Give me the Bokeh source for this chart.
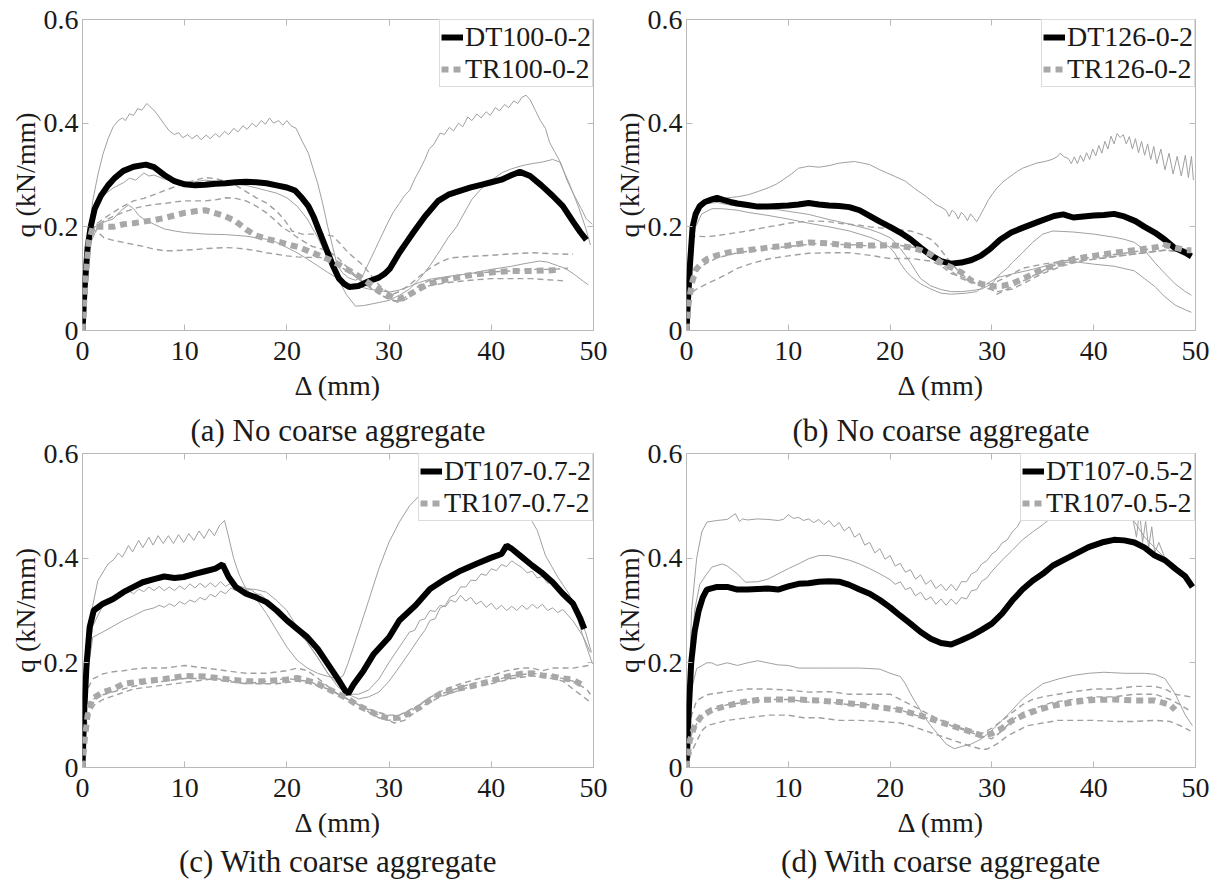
from bokeh.plotting import figure
from bokeh.models import (Range1d, FixedTicker, LinearAxis, Title, Legend,
                          LegendItem)
from bokeh.layouts import column, row
from bokeh.embed import file_html
from bokeh.resources import INLINE

FONT = "Liberation Serif"

X_TICKS = [0, 10, 20, 30, 40, 50]
Y_TICKS = [0, 0.2, 0.4, 0.6]
Y_TICK_LABELS = {0: "0", 0.2: "0.2", 0.4: "0.4", 0.6: "0.6"}

# ---------------------------------------------------------------- (a)
A_DT = [(0, 0), (0.2, 0.08), (0.5, 0.16), (0.8, 0.2), (1.2, 0.235), (1.8, 0.26), (2.5, 0.28),
        (3.2, 0.295), (4, 0.308), (5, 0.316), (6.2, 0.32), (7, 0.315), (8, 0.30), (9, 0.288),
        (10, 0.282), (11, 0.28), (12, 0.281), (13, 0.283), (14, 0.284), (15, 0.286), (16, 0.287),
        (17, 0.286), (18, 0.284), (19, 0.28), (20, 0.276), (20.8, 0.27), (21.5, 0.255), (22.1, 0.24),
        (22.6, 0.22), (23, 0.2), (23.5, 0.175), (24, 0.15), (24.5, 0.125), (25.1, 0.1), (25.6, 0.09),
        (26.1, 0.084), (27, 0.086), (28, 0.095), (29, 0.102), (29.6, 0.11), (30.1, 0.12), (31, 0.15),
        (31.7, 0.17), (32.4, 0.19), (33.5, 0.22), (34.8, 0.25), (35.8, 0.262), (37, 0.27), (38, 0.276),
        (39, 0.281), (40, 0.286), (41, 0.291), (42, 0.3), (42.8, 0.306), (43.8, 0.298), (44.9, 0.28),
        (46, 0.26), (47, 0.24), (48, 0.21), (48.7, 0.19), (49.3, 0.175)]
A_TR = [(0, 0), (0.3, 0.1), (0.6, 0.17), (1, 0.2), (2, 0.2), (3, 0.2), (4, 0.205), (5, 0.207),
        (6, 0.21), (7, 0.213), (8, 0.217), (9, 0.222), (10, 0.227), (11, 0.23), (12, 0.232),
        (12.9, 0.227), (14, 0.22), (14.9, 0.212), (16, 0.195), (17, 0.183), (18, 0.177), (19.4, 0.17),
        (20.5, 0.164), (21.3, 0.16), (22.5, 0.15), (24, 0.138), (25.1, 0.127), (25.9, 0.118),
        (26.7, 0.109), (27.4, 0.1), (28, 0.092), (29.3, 0.075), (30.4, 0.064), (31, 0.061),
        (31.7, 0.066), (32.4, 0.074), (33.2, 0.083), (33.9, 0.09), (35, 0.096), (35.8, 0.099),
        (37.7, 0.106), (40, 0.112), (41.9, 0.115), (44, 0.115), (46, 0.116), (46.6, 0.118)]
A_DT_SPEC = [
    [(0, 0), (0.3, 0.1), (0.6, 0.18), (1, 0.25), (1.5, 0.3), (2, 0.34), (2.5, 0.37), (3, 0.393),
     (3.5, 0.405), (3.9, 0.41), (4.2, 0.405), (4.6, 0.418), (5, 0.415), (5.4, 0.428), (5.8, 0.425),
     (6.3, 0.438), (6.6, 0.432), (7, 0.425), (7.5, 0.412), (8, 0.398), (8.5, 0.385), (9, 0.378),
     (9.4, 0.382), (9.8, 0.372), (10.3, 0.378), (10.7, 0.37), (11.2, 0.377), (11.6, 0.368),
     (12.1, 0.377), (12.5, 0.37), (13, 0.38), (13.4, 0.373), (13.9, 0.384), (14.3, 0.378),
     (14.8, 0.39), (15.2, 0.383), (15.7, 0.395), (16.1, 0.388), (16.6, 0.4), (17, 0.393),
     (17.5, 0.405), (17.9, 0.398), (18.3, 0.41), (18.7, 0.4), (19.2, 0.405), (19.6, 0.396),
     (20, 0.405), (20.4, 0.395), (20.9, 0.39), (21.5, 0.365), (22.1, 0.342), (22.6, 0.31),
     (23, 0.285), (23.5, 0.245), (24, 0.2), (24.5, 0.16), (24.9, 0.128), (25.4, 0.112), (26, 0.102),
     (26.7, 0.097), (27.4, 0.105), (28, 0.13), (28.6, 0.155), (29.2, 0.18), (29.8, 0.205),
     (30.4, 0.228), (31, 0.245), (31.5, 0.26), (32, 0.27), (32.5, 0.292), (33, 0.31), (33.5, 0.33),
     (33.9, 0.349), (34.4, 0.36), (35, 0.381), (35.4, 0.378), (35.9, 0.392), (36.3, 0.385),
     (36.8, 0.4), (37.2, 0.393), (37.7, 0.412), (38.1, 0.405), (38.6, 0.418), (39, 0.41),
     (39.5, 0.422), (39.9, 0.415), (40.4, 0.43), (40.8, 0.424), (41.3, 0.436), (41.7, 0.43),
     (42.2, 0.443), (42.6, 0.438), (43, 0.45), (43.4, 0.454), (43.8, 0.445), (44.3, 0.425),
     (44.8, 0.405), (45.3, 0.39), (45.7, 0.363), (46.2, 0.345), (46.8, 0.323), (47.4, 0.29),
     (48, 0.265), (48.8, 0.235), (49.3, 0.215), (49.9, 0.205)],
    [(0, 0), (0.3, 0.1), (0.7, 0.18), (1.2, 0.23), (2, 0.26), (3, 0.275), (4, 0.285), (4.6, 0.294),
     (5.2, 0.29), (6, 0.304), (6.5, 0.298), (7, 0.3), (8, 0.292), (9, 0.288), (10, 0.285),
     (11, 0.287), (12, 0.29), (13, 0.288), (14, 0.285), (15, 0.282), (16, 0.28), (17, 0.275),
     (18, 0.27), (19, 0.265), (20, 0.256), (21, 0.24), (22, 0.215), (23, 0.18), (24, 0.14),
     (25, 0.1), (25.8, 0.07), (26.7, 0.047), (27.5, 0.048), (28.5, 0.052), (30, 0.058), (31, 0.068),
     (32, 0.08), (33, 0.1), (34, 0.125), (35, 0.155), (35.8, 0.18), (36.6, 0.2), (37.3, 0.225),
     (38.1, 0.253), (39, 0.273), (40, 0.29), (41.1, 0.305), (42, 0.312), (43, 0.318), (44, 0.322),
     (45, 0.325), (46, 0.33), (46.7, 0.325), (47.6, 0.285), (48.5, 0.24), (49.2, 0.2),
     (49.7, 0.165)],
    [(0, 0), (0.3, 0.1), (0.8, 0.17), (1.5, 0.2), (2.2, 0.21), (3, 0.215), (3.8, 0.232),
     (4.5, 0.242), (5, 0.235), (5.5, 0.222), (6, 0.215), (7, 0.205), (8, 0.196), (9, 0.192),
     (10, 0.189), (12, 0.186), (14, 0.185), (16, 0.182), (18, 0.176), (19, 0.17), (20, 0.16),
     (21, 0.15), (22, 0.138), (23, 0.125), (24, 0.112), (25, 0.1), (26, 0.09), (27, 0.085),
     (28, 0.08), (29, 0.077), (30, 0.074), (31, 0.078), (32, 0.085), (33, 0.093), (34, 0.099),
     (35, 0.102), (36, 0.105), (38, 0.11), (40, 0.118), (42, 0.124), (43, 0.128), (44.7, 0.134),
     (45.5, 0.132), (46.5, 0.125), (47.2, 0.12), (48, 0.11), (49, 0.095), (49.5, 0.088)],
]
A_TR_SPEC = [
    [(0, 0), (0.3, 0.1), (0.7, 0.18), (1, 0.2), (2, 0.215), (3, 0.228), (4, 0.24), (5, 0.25),
     (6, 0.255), (7, 0.262), (8, 0.27), (9, 0.277), (10, 0.284), (11, 0.29), (12, 0.295),
     (13, 0.293), (14, 0.288), (15, 0.28), (16, 0.268), (17, 0.256), (18, 0.246), (19, 0.23),
     (19.7, 0.215), (20.5, 0.192), (21.5, 0.186), (22.5, 0.186), (23.5, 0.186), (24.5, 0.182),
     (25.2, 0.168), (26, 0.15), (26.8, 0.137), (27.5, 0.125), (28.3, 0.105), (29, 0.088),
     (29.6, 0.078), (30.3, 0.07), (31, 0.075), (32, 0.088), (33, 0.105), (34, 0.12), (35, 0.132),
     (36, 0.14), (38, 0.143), (40, 0.145), (42, 0.148), (44, 0.15), (46, 0.148), (48, 0.147)],
    [(0, 0), (0.3, 0.1), (0.8, 0.18), (1.2, 0.2), (2, 0.21), (3, 0.22), (4, 0.228), (5, 0.235),
     (6, 0.24), (7, 0.243), (8, 0.245), (9, 0.248), (10, 0.25), (11, 0.25), (12, 0.25),
     (13, 0.252), (14, 0.256), (15, 0.255), (16, 0.25), (17, 0.24), (18, 0.227), (19, 0.21),
     (19.5, 0.2), (20.3, 0.19), (21, 0.18), (21.8, 0.17), (22.5, 0.162), (23.3, 0.158), (24, 0.154),
     (25, 0.14), (26, 0.12), (27, 0.1), (27.8, 0.088), (28.5, 0.078), (29.3, 0.068), (30, 0.06),
     (31, 0.056), (32, 0.07), (33, 0.088), (34, 0.097), (35, 0.1), (36.5, 0.105), (38, 0.11),
     (40, 0.113), (42, 0.115), (44, 0.118), (46, 0.118), (47.5, 0.12)],
    [(0, 0), (0.3, 0.1), (0.7, 0.17), (1, 0.195), (1.5, 0.19), (2.1, 0.179), (3, 0.174), (4, 0.17),
     (5, 0.166), (6, 0.162), (7, 0.157), (8, 0.154), (9, 0.154), (10, 0.155), (11, 0.156),
     (12, 0.158), (13, 0.159), (14, 0.16), (15, 0.159), (16, 0.157), (17, 0.154), (18, 0.15),
     (19, 0.147), (20, 0.144), (21, 0.142), (22, 0.141), (23, 0.141), (24, 0.14), (24.8, 0.13),
     (25.5, 0.12), (26.3, 0.11), (27, 0.1), (28, 0.085), (28.8, 0.073), (29.5, 0.065),
     (30.3, 0.058), (31, 0.054), (31.8, 0.062), (32.5, 0.072), (33.2, 0.082), (34, 0.087),
     (35, 0.09), (36, 0.093), (37, 0.095), (38.5, 0.098), (40, 0.1), (42, 0.1), (44, 0.1),
     (45.5, 0.098), (47, 0.096)],
]

# ---------------------------------------------------------------- (b)
B_DT = [(0, 0), (0.15, 0.06), (0.35, 0.13), (0.6, 0.2), (0.9, 0.225), (1.3, 0.24), (1.8, 0.248),
        (2.5, 0.253), (3, 0.256), (3.6, 0.252), (4.3, 0.248), (5, 0.245), (6, 0.242), (7, 0.239),
        (8, 0.239), (9, 0.24), (10, 0.241), (11, 0.243), (12, 0.246), (13, 0.243), (14, 0.241),
        (15, 0.24), (16, 0.238), (17, 0.232), (17.9, 0.222), (19, 0.21), (20, 0.2), (21, 0.189),
        (22, 0.176), (23, 0.16), (24, 0.145), (25, 0.134), (26, 0.129), (27, 0.131), (28, 0.136),
        (28.9, 0.144), (29.8, 0.157), (30.8, 0.175), (31.9, 0.189), (33, 0.198), (34.6, 0.21),
        (36.1, 0.221), (37, 0.224), (38, 0.218), (39, 0.22), (40, 0.222), (41, 0.223), (42, 0.225),
        (43, 0.22), (44.1, 0.211), (45, 0.2), (46, 0.189), (47, 0.175), (47.9, 0.16), (49, 0.15),
        (49.6, 0.143)]
B_TR = [(0, 0), (0.2, 0.05), (0.5, 0.09), (0.95, 0.118), (1.5, 0.13), (2, 0.138), (3, 0.145),
        (4, 0.15), (5, 0.153), (6, 0.155), (7, 0.157), (8, 0.16), (9, 0.162), (10, 0.164),
        (11, 0.167), (12, 0.17), (13, 0.169), (14, 0.168), (15, 0.166), (16, 0.164), (17, 0.165),
        (18, 0.164), (19, 0.164), (20, 0.165), (21, 0.163), (22, 0.16), (23, 0.155), (24, 0.147),
        (25, 0.131), (26, 0.122), (27, 0.112), (28, 0.096), (29, 0.09), (30, 0.085), (31, 0.086),
        (31.9, 0.09), (33, 0.099), (34, 0.109), (35, 0.118), (36.5, 0.128), (38, 0.138), (40, 0.144),
        (42, 0.15), (44, 0.155), (46, 0.16), (47, 0.165), (48, 0.16), (49, 0.155), (49.6, 0.155)]
B_DT_SPEC = [
    [(0, 0), (0.2, 0.08), (0.5, 0.16), (0.9, 0.21), (1.4, 0.24), (2, 0.252), (3, 0.254), (4, 0.256),
     (5, 0.258), (6.1, 0.262), (7, 0.268), (8, 0.275), (8.8, 0.282), (9.5, 0.291), (10.3, 0.302),
     (11, 0.313), (12, 0.317), (13, 0.315), (14, 0.318), (15, 0.323), (16.5, 0.326), (17.3, 0.323),
     (18, 0.32), (19, 0.31), (20.5, 0.297), (21.5, 0.288), (22.4, 0.274), (23.5, 0.259),
     (24.5, 0.243), (25, 0.238), (25.5, 0.232), (25.8, 0.22), (26.1, 0.232), (26.4, 0.227),
     (26.7, 0.215), (27, 0.228), (27.3, 0.222), (27.6, 0.212), (27.9, 0.225), (28.2, 0.218),
     (28.5, 0.21), (28.8, 0.22), (29.2, 0.235), (29.6, 0.25), (30, 0.262), (30.5, 0.275),
     (31, 0.285), (31.5, 0.293), (32, 0.3), (32.5, 0.307), (33, 0.313), (33.7, 0.318),
     (34.4, 0.323), (35.2, 0.326), (35.9, 0.33), (36.4, 0.335), (36.7, 0.342), (37.1, 0.335),
     (37.5, 0.332), (37.8, 0.322), (38.1, 0.335), (38.4, 0.322), (38.7, 0.338), (39, 0.326),
     (39.3, 0.343), (39.6, 0.33), (39.9, 0.35), (40.2, 0.337), (40.5, 0.357), (40.8, 0.342),
     (41.1, 0.365), (41.4, 0.35), (41.7, 0.375), (42, 0.36), (42.3, 0.38), (42.6, 0.372),
     (42.9, 0.378), (43.2, 0.36), (43.5, 0.374), (43.8, 0.35), (44.1, 0.37), (44.4, 0.343),
     (44.7, 0.365), (45, 0.338), (45.3, 0.36), (45.6, 0.33), (45.9, 0.355), (46.2, 0.322),
     (46.6, 0.35), (47, 0.31), (47.4, 0.342), (47.8, 0.302), (48.2, 0.336), (48.6, 0.298),
     (49, 0.338), (49.3, 0.295), (49.6, 0.336), (49.8, 0.29)],
    [(0, 0), (0.2, 0.08), (0.5, 0.16), (0.9, 0.21), (1.4, 0.235), (2, 0.245), (3, 0.247),
     (4, 0.243), (5, 0.24), (6, 0.238), (7, 0.237), (8, 0.236), (9, 0.233), (10, 0.23),
     (11, 0.227), (12, 0.224), (13, 0.219), (14, 0.214), (15, 0.21), (16, 0.205), (17, 0.2),
     (18, 0.195), (19, 0.188), (20, 0.179), (20.5, 0.17), (21, 0.158), (21.5, 0.145), (22, 0.131),
     (22.5, 0.115), (23, 0.1), (24, 0.086), (25, 0.079), (26, 0.075), (27, 0.075), (28, 0.077),
     (29, 0.08), (30, 0.09), (30.8, 0.109), (31.5, 0.12), (32, 0.131), (33, 0.15), (34, 0.17),
     (35, 0.186), (36, 0.192), (37, 0.191), (38, 0.19), (39, 0.188), (40, 0.186), (41, 0.183),
     (42, 0.18), (43, 0.176), (44, 0.17), (45, 0.155), (46, 0.131), (47, 0.11), (48, 0.09),
     (49, 0.075), (49.6, 0.068)],
    [(0, 0), (0.2, 0.08), (0.5, 0.16), (0.9, 0.2), (1.5, 0.225), (2.5, 0.235), (3.5, 0.235),
     (5, 0.232), (6, 0.228), (8, 0.222), (10, 0.215), (12, 0.207), (14, 0.2), (16, 0.192),
     (18, 0.18), (19, 0.172), (20, 0.16), (20.5, 0.148), (21, 0.13), (21.5, 0.116), (22, 0.105),
     (23, 0.09), (24, 0.08), (25, 0.072), (26, 0.07), (27.5, 0.072), (28.5, 0.075), (29.5, 0.09),
     (30.5, 0.102), (32, 0.109), (34, 0.118), (36, 0.128), (38, 0.133), (40, 0.128), (42, 0.124),
     (44, 0.115), (45, 0.1), (46, 0.085), (47, 0.065), (48, 0.049), (49, 0.04), (49.6, 0.035)],
]
B_TR_SPEC = [
    [(0, 0), (0.2, 0.1), (0.5, 0.17), (0.8, 0.182), (2, 0.181), (3, 0.183), (4, 0.186), (5, 0.189),
     (6, 0.192), (7, 0.196), (8, 0.2), (9, 0.203), (10, 0.207), (11, 0.209), (12, 0.211),
     (13, 0.211), (14, 0.21), (15, 0.207), (16, 0.205), (17, 0.203), (18, 0.2), (19, 0.198),
     (20, 0.196), (21, 0.194), (22, 0.192), (23, 0.186), (24, 0.176), (24.6, 0.165), (25.2, 0.15),
     (26, 0.13), (27, 0.109), (28, 0.095), (29, 0.09), (30, 0.09), (31, 0.099), (32, 0.109),
     (33, 0.12), (35, 0.128), (37, 0.134), (39, 0.139), (41, 0.144), (43, 0.149), (45, 0.155),
     (46, 0.16), (47, 0.164), (48, 0.16), (49.5, 0.155)],
    [(0, 0), (0.2, 0.06), (0.6, 0.1), (1.2, 0.12), (2, 0.13), (3, 0.14), (5, 0.15), (7, 0.155),
     (9, 0.16), (11, 0.164), (13, 0.168), (15, 0.166), (17, 0.165), (19, 0.16), (21, 0.164),
     (22.5, 0.16), (24, 0.145), (25.5, 0.122), (27, 0.1), (28.5, 0.09), (30, 0.08), (30.5, 0.07),
     (31.5, 0.08), (33, 0.095), (34.5, 0.11), (36, 0.125), (37.5, 0.13), (39, 0.135), (41, 0.14),
     (43, 0.145), (45, 0.15), (47, 0.155), (49.5, 0.15)],
    [(0, 0), (0.3, 0.07), (1, 0.08), (2, 0.09), (3, 0.099), (4, 0.109), (5, 0.12), (6.5, 0.13),
     (8, 0.138), (10, 0.144), (12, 0.149), (14, 0.15), (16, 0.15), (18, 0.145), (20, 0.139),
     (22, 0.139), (24, 0.134), (25, 0.125), (26, 0.11), (27.5, 0.1), (29, 0.085), (30.5, 0.075),
     (32, 0.08), (33.5, 0.095), (35, 0.11), (37, 0.125), (39, 0.135), (41, 0.14), (43, 0.145),
     (45, 0.15), (47, 0.155), (49.5, 0.15)],
]

# ---------------------------------------------------------------- (c)
C_DT = [(0, 0), (0.15, 0.1), (0.4, 0.198), (0.7, 0.268), (1.1, 0.3), (2, 0.313), (3, 0.322),
        (4, 0.335), (5, 0.345), (5.9, 0.354), (7, 0.36), (8, 0.365), (9, 0.362), (9.9, 0.364),
        (11, 0.37), (12, 0.375), (13, 0.38), (13.7, 0.388), (14.3, 0.364), (15, 0.345), (16, 0.332),
        (17, 0.325), (18, 0.316), (19, 0.3), (20, 0.281), (21, 0.265), (22, 0.249), (23, 0.227),
        (24, 0.198), (25, 0.169), (25.7, 0.147), (26, 0.141), (26.5, 0.158), (27.5, 0.185),
        (28.5, 0.217), (30, 0.249), (31, 0.281), (32.6, 0.31), (34, 0.341), (35.5, 0.36),
        (37, 0.376), (38.5, 0.389), (40, 0.401), (41, 0.408), (41.5, 0.424), (42, 0.418),
        (43, 0.402), (44, 0.386), (44.9, 0.373), (46, 0.354), (47, 0.332), (48, 0.313),
        (48.7, 0.285), (49.1, 0.265)]
C_TR = [(0, 0), (0.2, 0.05), (0.5, 0.1), (0.95, 0.131), (2, 0.144), (3, 0.15), (4, 0.16),
        (6, 0.165), (8, 0.169), (10, 0.175), (12, 0.174), (14, 0.169), (16, 0.165), (18, 0.165),
        (20, 0.168), (21, 0.171), (22, 0.166), (23, 0.16), (24, 0.15), (25, 0.141), (26, 0.131),
        (27, 0.118), (28, 0.109), (29, 0.099), (30, 0.094), (31, 0.095), (32, 0.104), (33, 0.115),
        (34, 0.129), (35, 0.141), (36.6, 0.15), (38, 0.155), (39, 0.16), (40, 0.165), (41, 0.171),
        (42, 0.176), (43, 0.179), (44, 0.18), (45, 0.176), (46, 0.174), (47, 0.17), (48, 0.168),
        (48.5, 0.162), (49, 0.157)]
C_DT_SPEC = [
    [(0, 0), (0.2, 0.12), (0.5, 0.23), (0.9, 0.3), (1.5, 0.357), (2.5, 0.389), (3.1, 0.398),
     (3.5, 0.41), (3.9, 0.402), (4.5, 0.424), (4.9, 0.412), (5.5, 0.434), (5.9, 0.42), (6.5, 0.44),
     (6.9, 0.425), (7.4, 0.443), (7.9, 0.428), (8.4, 0.443), (8.9, 0.428), (9.4, 0.445),
     (9.9, 0.43), (10.4, 0.447), (10.9, 0.434), (11.4, 0.452), (11.9, 0.438), (12.4, 0.456),
     (12.9, 0.443), (13.4, 0.462), (13.9, 0.472), (14.3, 0.44), (14.8, 0.399), (15.3, 0.37),
     (16, 0.341), (17, 0.322), (18, 0.294), (19, 0.262), (20, 0.23), (21, 0.205), (22, 0.19),
     (23, 0.18), (24, 0.174), (25, 0.17), (25.5, 0.175), (26, 0.2), (27, 0.259), (28, 0.319),
     (29, 0.38), (30, 0.431), (31, 0.469), (32, 0.5), (33, 0.52), (34, 0.535), (36, 0.55),
     (38, 0.56), (40, 0.562), (42, 0.54), (43.2, 0.504), (44, 0.47), (44.5, 0.453), (45.3, 0.405),
     (46.5, 0.364), (47.6, 0.332), (48.3, 0.294), (49, 0.249), (49.9, 0.198)],
    [(0, 0), (0.2, 0.1), (0.5, 0.2), (1, 0.27), (2, 0.31), (3, 0.32), (4, 0.33), (4.5, 0.338),
     (5, 0.332), (5.5, 0.341), (6, 0.336), (6.5, 0.345), (7, 0.338), (7.5, 0.346), (8, 0.338),
     (8.5, 0.345), (9, 0.338), (9.5, 0.347), (10, 0.34), (10.5, 0.351), (11, 0.343), (11.5, 0.352),
     (12, 0.344), (12.5, 0.353), (13, 0.345), (13.5, 0.355), (14, 0.346), (14.5, 0.352),
     (15, 0.343), (16, 0.339), (16.5, 0.34), (17, 0.332), (17.5, 0.33), (18, 0.32), (19, 0.3),
     (20, 0.28), (21, 0.259), (22, 0.239), (23, 0.211), (24, 0.18), (25, 0.16), (26, 0.14),
     (27, 0.14), (28, 0.148), (29, 0.169), (30, 0.201), (31, 0.23), (32, 0.259), (32.5, 0.262),
     (33, 0.281), (33.5, 0.284), (34, 0.3), (34.5, 0.298), (35, 0.31), (35.5, 0.307), (36, 0.32),
     (36.5, 0.316), (37, 0.329), (37.5, 0.318), (38, 0.325), (38.5, 0.312), (39, 0.318),
     (39.5, 0.306), (40, 0.314), (40.5, 0.302), (41, 0.31), (41.5, 0.3), (42, 0.308), (42.5, 0.3),
     (43, 0.31), (43.5, 0.302), (44, 0.312), (44.5, 0.304), (45, 0.312), (45.5, 0.3), (46, 0.305),
     (46.5, 0.296), (47, 0.302), (48, 0.28), (49, 0.25), (49.7, 0.22)],
    [(0, 0), (0.2, 0.09), (0.5, 0.18), (1, 0.249), (2, 0.259), (3, 0.27), (4, 0.281), (5, 0.29),
     (6, 0.3), (7, 0.305), (7.5, 0.31), (8, 0.306), (8.5, 0.313), (9, 0.308), (9.5, 0.317),
     (10, 0.312), (10.5, 0.32), (11, 0.316), (11.5, 0.325), (12, 0.32), (12.5, 0.331), (13, 0.326),
     (13.5, 0.337), (14, 0.332), (14.5, 0.343), (15, 0.338), (15.5, 0.346), (16, 0.342),
     (17, 0.34), (18, 0.335), (19, 0.319), (20, 0.3), (21, 0.268), (22, 0.239), (23, 0.21),
     (24, 0.18), (25, 0.154), (26, 0.14), (27, 0.131), (28, 0.135), (29, 0.144), (30, 0.165),
     (31, 0.192), (32, 0.22), (33, 0.249), (33.5, 0.262), (34, 0.281), (34.5, 0.284), (35, 0.305),
     (35.5, 0.31), (36, 0.326), (36.5, 0.33), (37, 0.345), (37.5, 0.345), (38, 0.358),
     (38.5, 0.357), (39, 0.37), (39.5, 0.367), (40, 0.38), (40.5, 0.376), (41, 0.388),
     (41.5, 0.384), (42, 0.395), (42.5, 0.388), (43, 0.382), (43.5, 0.372), (44, 0.375),
     (44.5, 0.362), (45, 0.365), (45.5, 0.352), (46, 0.356), (46.5, 0.342), (47, 0.338),
     (47.5, 0.33), (48.3, 0.3), (49.2, 0.26), (49.8, 0.22)],
]
C_TR_SPEC = [
    [(0, 0), (0.2, 0.08), (0.5, 0.15), (1, 0.169), (2, 0.179), (3, 0.183), (4, 0.185), (5, 0.188),
     (6, 0.19), (8, 0.19), (10, 0.195), (12, 0.19), (14, 0.185), (16, 0.18), (18, 0.18),
     (20, 0.185), (21, 0.19), (22, 0.185), (23, 0.171), (24, 0.155), (25, 0.14), (26, 0.13),
     (27, 0.12), (28, 0.106), (29, 0.095), (30, 0.09), (31, 0.095), (32, 0.105), (33, 0.12),
     (34, 0.134), (35.5, 0.15), (37, 0.16), (39, 0.171), (40, 0.175), (41.5, 0.185), (43, 0.19),
     (44, 0.19), (45, 0.185), (46, 0.19), (47, 0.19), (48, 0.19), (49.5, 0.195)],
    [(0, 0), (0.3, 0.08), (0.6, 0.11), (1, 0.13), (2, 0.139), (4, 0.15), (6, 0.16), (8, 0.165),
     (10, 0.17), (12, 0.17), (14, 0.165), (16, 0.16), (18, 0.165), (20, 0.17), (22, 0.165),
     (23.5, 0.155), (25, 0.14), (26.5, 0.125), (28, 0.11), (29.5, 0.095), (30.5, 0.085),
     (31.5, 0.09), (32.5, 0.105), (33.5, 0.12), (35, 0.135), (36.5, 0.145), (38, 0.155),
     (40, 0.16), (42, 0.17), (44, 0.175), (46, 0.17), (47, 0.165), (48, 0.15), (49, 0.135),
     (49.7, 0.125)],
    [(0, 0), (0.2, 0.05), (0.5, 0.1), (1.2, 0.12), (2, 0.13), (3.5, 0.14), (5, 0.15), (7, 0.155),
     (9, 0.16), (11, 0.165), (13, 0.17), (15, 0.165), (17, 0.16), (19, 0.16), (21, 0.165),
     (22.5, 0.16), (24, 0.15), (25, 0.14), (26, 0.13), (27.5, 0.115), (29, 0.105), (30, 0.1),
     (31, 0.1), (32, 0.11), (33.5, 0.125), (35, 0.14), (36.5, 0.15), (38, 0.16), (40, 0.165),
     (42, 0.175), (44, 0.18), (46, 0.175), (48, 0.165), (49.3, 0.15), (49.7, 0.14)],
]

# ---------------------------------------------------------------- (d)
D_DT = [(0, 0), (0.2, 0.1), (0.46, 0.2), (0.8, 0.26), (1.2, 0.3), (1.6, 0.325), (2, 0.34),
        (3, 0.345), (4, 0.345), (5, 0.34), (6, 0.34), (7, 0.341), (8, 0.342), (9, 0.34),
        (10, 0.346), (11, 0.351), (12, 0.352), (13, 0.355), (14, 0.356), (15, 0.355), (16, 0.349),
        (17, 0.34), (18, 0.332), (19, 0.32), (20, 0.306), (21, 0.29), (22, 0.275), (23, 0.259),
        (24, 0.246), (25, 0.238), (26, 0.235), (27, 0.243), (28, 0.252), (29, 0.263), (30, 0.275),
        (31, 0.294), (32, 0.319), (33, 0.34), (34, 0.357), (35, 0.37), (36, 0.386), (37.5, 0.401),
        (38.5, 0.411), (39.5, 0.421), (41, 0.431), (42, 0.435), (43, 0.434), (44, 0.43), (45, 0.42),
        (46, 0.405), (47, 0.396), (48, 0.38), (49, 0.365), (49.7, 0.345)]
D_TR = [(0, 0), (0.3, 0.05), (0.8, 0.08), (1.5, 0.099), (2.5, 0.11), (4, 0.118), (5.5, 0.125),
        (7, 0.129), (9, 0.13), (11, 0.13), (13, 0.128), (15, 0.125), (17, 0.12), (19, 0.115),
        (21, 0.11), (23, 0.099), (24.5, 0.09), (26, 0.08), (27.5, 0.071), (29, 0.061), (30, 0.065),
        (31, 0.075), (32, 0.09), (33, 0.099), (34.5, 0.11), (36, 0.118), (38, 0.125), (40, 0.129),
        (42, 0.13), (44, 0.128), (46, 0.128), (47.5, 0.12), (48, 0.11)]
D_DT_SPEC = [
    [(0, 0), (0.2, 0.12), (0.5, 0.3), (1, 0.4), (1.5, 0.45), (2, 0.469), (3, 0.472), (4, 0.474),
     (4.8, 0.485), (5.2, 0.47), (5.5, 0.475), (6, 0.473), (7, 0.475), (8, 0.474), (9, 0.472),
     (9.5, 0.474), (10, 0.483), (10.5, 0.476), (11, 0.478), (11.5, 0.472), (12, 0.475),
     (12.5, 0.468), (13, 0.474), (13.5, 0.464), (14, 0.472), (14.5, 0.46), (15, 0.468),
     (15.5, 0.452), (16, 0.46), (16.5, 0.44), (17, 0.447), (17.5, 0.425), (18, 0.43), (18.5, 0.41),
     (19, 0.418), (19.5, 0.398), (20, 0.405), (20.5, 0.385), (21, 0.39), (21.5, 0.373),
     (22, 0.378), (22.5, 0.36), (23, 0.368), (23.5, 0.35), (24, 0.358), (24.5, 0.342), (25, 0.35),
     (25.5, 0.338), (26, 0.35), (26.5, 0.338), (27, 0.355), (27.5, 0.355), (28, 0.37),
     (28.5, 0.375), (29, 0.389), (29.5, 0.395), (30, 0.408), (30.5, 0.415), (31, 0.429),
     (31.5, 0.435), (32, 0.45), (32.5, 0.46), (33, 0.478), (33.5, 0.485), (34, 0.5), (35, 0.52),
     (36, 0.535), (38, 0.55), (40, 0.555), (42, 0.54), (43, 0.51), (43.8, 0.48), (44.2, 0.44),
     (44.5, 0.49), (44.8, 0.43), (45.1, 0.47), (45.4, 0.42), (45.7, 0.46), (46, 0.41),
     (46.4, 0.43), (47, 0.4), (48, 0.38), (49, 0.36), (49.7, 0.345)],
    [(0, 0), (0.2, 0.1), (0.5, 0.22), (0.8, 0.3), (1.3, 0.35), (2, 0.37), (2.5, 0.383),
     (3.5, 0.389), (4, 0.385), (5, 0.37), (5.8, 0.354), (7, 0.355), (8, 0.36), (9, 0.37),
     (10, 0.38), (11, 0.389), (12, 0.399), (13, 0.405), (14, 0.405), (15, 0.401), (16, 0.396),
     (17, 0.389), (18, 0.38), (19, 0.37), (20, 0.359), (20.5, 0.35), (21, 0.355), (21.5, 0.34),
     (22, 0.344), (22.5, 0.328), (23, 0.335), (23.5, 0.32), (24, 0.326), (24.5, 0.312),
     (25, 0.322), (25.5, 0.31), (26, 0.322), (26.5, 0.312), (27, 0.325), (27.5, 0.322),
     (28, 0.338), (28.5, 0.34), (29, 0.356), (29.5, 0.362), (30, 0.375), (31, 0.396), (32, 0.415),
     (33, 0.435), (34, 0.45), (35, 0.464), (36, 0.48), (37, 0.49), (39, 0.5), (41, 0.5),
     (43, 0.49), (44, 0.47), (45, 0.44), (46, 0.42), (47, 0.4), (48, 0.38), (49, 0.36),
     (49.7, 0.345)],
    [(0, 0), (0.2, 0.08), (0.5, 0.15), (1, 0.189), (2, 0.2), (2.5, 0.2), (3, 0.195), (4, 0.2),
     (5, 0.195), (6, 0.2), (7, 0.204), (8, 0.2), (9, 0.196), (10, 0.195), (11, 0.19), (13, 0.19),
     (15, 0.19), (17, 0.19), (19, 0.188), (20, 0.18), (21, 0.174), (21.5, 0.16), (22, 0.141),
     (22.7, 0.118), (23.3, 0.099), (24, 0.08), (24.8, 0.061), (25.5, 0.045), (26.3, 0.036),
     (27, 0.04), (28, 0.045), (29, 0.055), (30, 0.071), (31, 0.09), (32, 0.11), (33, 0.131),
     (34, 0.146), (35, 0.16), (36.5, 0.169), (38, 0.176), (39.5, 0.18), (41, 0.182), (43, 0.18),
     (45, 0.18), (46, 0.178), (47, 0.17), (48, 0.141), (49, 0.1), (49.7, 0.08)],
]
D_TR_SPEC = [
    [(0, 0), (0.2, 0.06), (0.5, 0.1), (1, 0.128), (2, 0.139), (4, 0.145), (6, 0.15), (8, 0.15),
     (10, 0.148), (12, 0.144), (14, 0.145), (16, 0.14), (18, 0.14), (20, 0.14), (21, 0.13),
     (22, 0.12), (23, 0.11), (24, 0.1), (25, 0.09), (26, 0.08), (27, 0.075), (28, 0.07),
     (29, 0.065), (30, 0.075), (31, 0.09), (32, 0.105), (33, 0.12), (34, 0.13), (35, 0.135),
     (36.5, 0.14), (38, 0.145), (40, 0.15), (42, 0.15), (44, 0.155), (46, 0.155), (47, 0.15),
     (48, 0.14), (49.5, 0.135)],
    [(0, 0), (0.3, 0.05), (0.6, 0.07), (1.5, 0.1), (2.5, 0.11), (4, 0.12), (6, 0.125), (8, 0.13),
     (10, 0.13), (12, 0.125), (14, 0.125), (16, 0.12), (18, 0.12), (20, 0.115), (21, 0.11),
     (22.5, 0.1), (23.5, 0.095), (25, 0.09), (26, 0.08), (27.5, 0.07), (29, 0.06), (30, 0.055),
     (31, 0.07), (32, 0.09), (33, 0.105), (34.5, 0.115), (36, 0.125), (38, 0.13), (40, 0.135),
     (42, 0.135), (44, 0.14), (46, 0.14), (47.5, 0.13), (48.5, 0.12), (49.3, 0.11)],
    [(0, 0), (0.5, 0.03), (1, 0.05), (1.5, 0.07), (2, 0.08), (3, 0.085), (4, 0.09), (6, 0.095),
     (8, 0.1), (10, 0.1), (11.5, 0.095), (13, 0.095), (15, 0.09), (17, 0.09), (19, 0.088),
     (21, 0.085), (22, 0.08), (23.5, 0.07), (25, 0.06), (26.5, 0.05), (28, 0.04), (29, 0.035),
     (29.5, 0.035), (30.5, 0.045), (31.5, 0.06), (32.5, 0.07), (33.5, 0.08), (35, 0.085),
     (36.5, 0.09), (38, 0.09), (40, 0.09), (42, 0.088), (44, 0.088), (46, 0.09), (47.5, 0.088),
     (48.5, 0.08), (49.5, 0.07)],
]

PANELS = [
    dict(caption="(a) No coarse aggregate", dt_label="DT100-0-2", tr_label="TR100-0-2",
         dt=A_DT, tr=A_TR, dt_spec=A_DT_SPEC, tr_spec=A_TR_SPEC),
    dict(caption="(b) No coarse aggregate", dt_label="DT126-0-2", tr_label="TR126-0-2",
         dt=B_DT, tr=B_TR, dt_spec=B_DT_SPEC, tr_spec=B_TR_SPEC),
    dict(caption="(c) With coarse aggregate", dt_label="DT107-0.7-2", tr_label="TR107-0.7-2",
         dt=C_DT, tr=C_TR, dt_spec=C_DT_SPEC, tr_spec=C_TR_SPEC),
    dict(caption="(d) With coarse aggregate", dt_label="DT107-0.5-2", tr_label="TR107-0.5-2",
         dt=D_DT, tr=D_TR, dt_spec=D_DT_SPEC, tr_spec=D_TR_SPEC),
]

BOX_GREY = "#b9b9b9"
SPEC_GREY = "#a0a0a0"
MEAN_GREY = "#a8a8a8"
TEXT = "#1a1a1a"


def xy(pairs):
    xs, qs = zip(*pairs)
    return list(xs), list(qs)


def caption_title(text, standoff):
    return Title(text=text, align="center", text_font=FONT, text_font_size="31px",
                 text_font_style="normal", text_color=TEXT, standoff=standoff)


def make_panel(spec, width, height, left, right, top, bottom, caption_above=None,
               caption_below=None):
    p = figure(width=width, height=height, x_range=Range1d(0, 50), y_range=Range1d(0, 0.6),
               output_backend="svg", toolbar_location=None, title=None,
               min_border_left=left, min_border_right=right,
               min_border_top=top, min_border_bottom=bottom)
    p.grid.visible = False
    p.outline_line_color = BOX_GREY
    p.outline_line_width = 1
    p.background_fill_color = "white"
    p.border_fill_color = "white"

    p.axis.major_tick_in = 6
    p.axis.major_tick_out = 0
    p.axis.minor_tick_line_color = None
    p.axis.axis_line_color = None
    p.axis.major_tick_line_color = BOX_GREY
    p.axis.major_label_text_font = FONT
    p.axis.major_label_text_font_size = "28px"
    p.axis.major_label_text_color = TEXT
    p.axis.axis_label_text_font = FONT
    p.axis.axis_label_text_font_size = "28px"
    p.axis.axis_label_text_font_style = "normal"
    p.axis.axis_label_text_color = TEXT

    p.xaxis.ticker = FixedTicker(ticks=X_TICKS)
    p.yaxis.ticker = FixedTicker(ticks=Y_TICKS)
    p.yaxis.major_label_overrides = Y_TICK_LABELS
    p.xaxis.axis_label = "\u0394 (mm)"
    p.yaxis.axis_label = "q (kN/mm)"
    p.xaxis.major_label_standoff = 11
    p.xaxis.axis_label_standoff = 7
    p.yaxis.major_label_standoff = 4
    p.yaxis.axis_label_standoff = 0

    # tick marks on the top and right edges of the box (no labels)
    for place, ticks in (("right", Y_TICKS), ("above", X_TICKS)):
        ax = LinearAxis(ticker=FixedTicker(ticks=ticks),
                        major_label_overrides={t: "" for t in ticks},
                        major_label_text_color=None, major_label_text_font_size="1px",
                        major_tick_in=6, major_tick_out=0, minor_tick_line_color=None,
                        axis_line_color=None, major_tick_line_color=BOX_GREY,
                        major_label_standoff=0)
        p.add_layout(ax, place)

    for pairs in spec["dt_spec"]:
        xs, qs = xy(pairs)
        p.line(xs, qs, line_color=SPEC_GREY, line_width=1)
    for pairs in spec["tr_spec"]:
        xs, qs = xy(pairs)
        p.line(xs, qs, line_color=SPEC_GREY, line_width=1.4, line_dash="6 4")

    xs, qs = xy(spec["dt"])
    r_dt = p.line(xs, qs, line_color="black", line_width=6)
    xs, qs = xy(spec["tr"])
    r_tr = p.line(xs, qs, line_color=MEAN_GREY, line_width=6, line_dash="7 5")

    legend = Legend(items=[LegendItem(label=spec["dt_label"], renderers=[r_dt]),
                           LegendItem(label=spec["tr_label"], renderers=[r_tr])],
                    location="top_right", margin=0, padding=1, spacing=-3,
                    glyph_width=22, glyph_height=28, label_height=28, label_standoff=2,
                    label_text_font=FONT, label_text_font_size="28px",
                    label_text_color=TEXT,
                    border_line_color=BOX_GREY, border_line_width=1,
                    background_fill_color="white", background_fill_alpha=1.0)
    p.add_layout(legend)

    if caption_above is not None:
        p.add_layout(caption_title(caption_above, 12), "above")
    if caption_below is not None:
        p.add_layout(caption_title(caption_below, 2), "below")
    return p


# Top row: the plots themselves; their captions sit in the band above the lower row.
pa = make_panel(PANELS[0], 610, 403, 82, 17, 19, 71)
pb = make_panel(PANELS[1], 610, 403, 73, 25, 19, 71)
pc = make_panel(PANELS[2], 610, 478, 82, 17, 50, 114,
                caption_above=PANELS[0]["caption"], caption_below=PANELS[2]["caption"])
pd = make_panel(PANELS[3], 610, 478, 73, 25, 50, 114,
                caption_above=PANELS[1]["caption"], caption_below=PANELS[3]["caption"])

layout = column(row(pa, pb), row(pc, pd))

with open("out.html", "w") as fh:
    fh.write(file_html(layout, INLINE))
